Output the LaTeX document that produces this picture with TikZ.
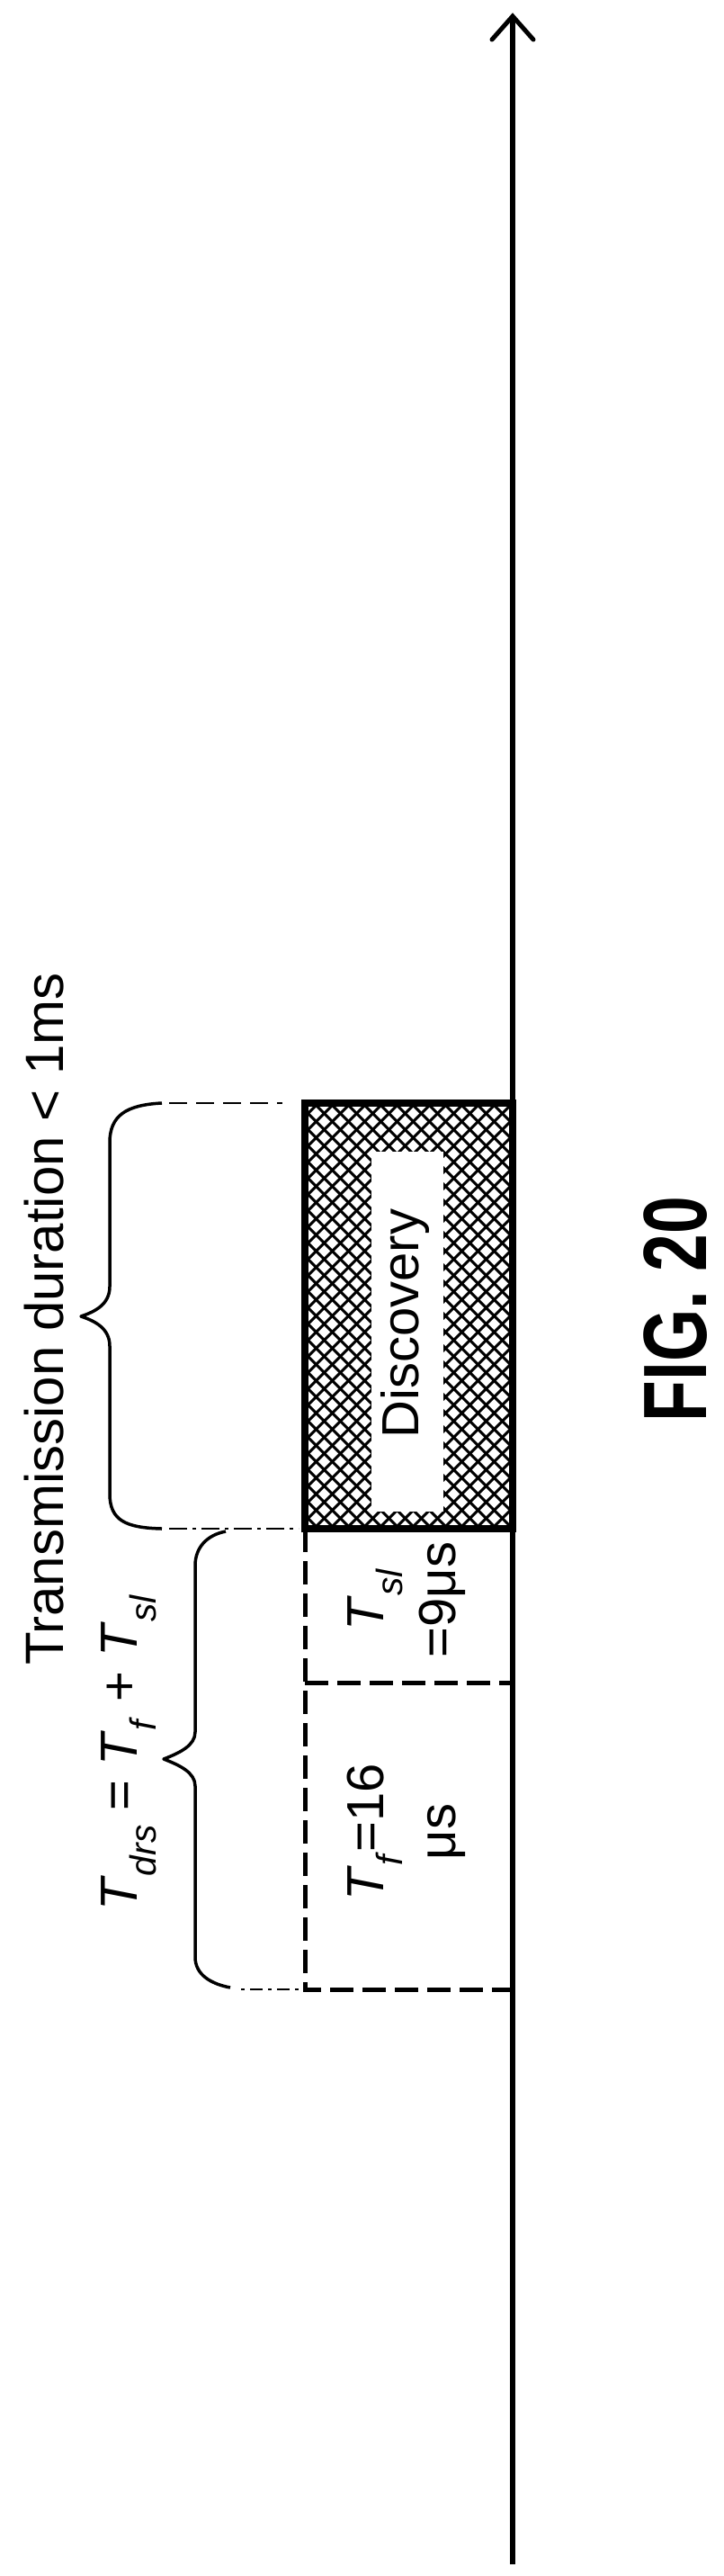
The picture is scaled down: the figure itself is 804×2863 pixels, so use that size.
\documentclass[tikz,border=0pt]{standalone}
\usepackage{fontspec}
\setmainfont{Liberation Sans}
\begin{document}
\begin{tikzpicture}[x=1pt,y=-1pt,
  lbl/.style={rotate=90,inner sep=0pt,font=\fontsize{58}{80}\selectfont,align=center},
  dsh/.style={line width=5pt,dash pattern=on 26pt off 10pt},
  thin dsh/.style={line width=2.5pt,dash pattern=on 20pt off 10pt},
  brc/.style={line width=3.5pt,line join=round}]
\useasboundingbox (0,0) rectangle (804,2863);
% discovery box
\coordinate (dtl) at (339,1226);
\coordinate (dbr) at (570,1699);
\begin{scope}
\clip (dtl) rectangle (dbr);
\foreach \i in {0,...,40}{
  \draw[line width=3pt] (339+18*\i-480,1226-4) -- ++(720,720);
  \draw[line width=3pt] (339+18*\i-480,1699+4) -- ++(720,-720);
}
\end{scope}
\fill[white] (413,1280) rectangle (493,1680);
\draw[line width=8pt] (dtl) rectangle (dbr);
\node[lbl] (disc) at (450,1471) {Discovery};
% dashed boxes
\draw[dsh] (339,1699) -- (339,2211) -- (570,2211);
\draw[dsh] (339,1870) -- (570,1870);
\node[lbl] (tsl) at (452,1778) {\textit{T}\textsubscript{\textit{sl}}\\=9μs};
\node[lbl] (tf) at (452,2036) {\textit{T}\textsubscript{\textit{f}}=16\\μs};
% axis
\coordinate (ab) at (570,2850);
\coordinate (at) at (570,18);
\draw[line width=5.5pt] (ab) -- (at);
\draw[line width=5pt,line cap=round,line join=miter] (547,44) -- (at) -- (593,44);
% braces
\draw[brc] (180,1226) .. controls (140,1228) and (122,1240) .. (122,1270) -- (122,1430)
  .. controls (122,1450) and (105,1458) .. (90,1463)
  .. controls (105,1468) and (122,1476) .. (122,1496) -- (122,1660)
  .. controls (122,1690) and (140,1698) .. (180,1699);
\draw[brc] (251,1702) .. controls (230,1706) and (217,1720) .. (217,1740) -- (217,1925)
  .. controls (217,1940) and (200,1948) .. (182,1955)
  .. controls (200,1962) and (217,1970) .. (217,1985) -- (217,2175)
  .. controls (217,2195) and (235,2205) .. (256,2209);
\draw[thin dsh] (188,1226) -- (314,1226);
\draw[thin dsh,dash pattern=on 20pt off 6pt on 4pt off 6pt] (188,1699) -- (332,1699);
\draw[thin dsh,dash pattern=on 4pt off 6pt on 14pt off 6pt] (268,2211) -- (334,2211);
% labels
\node[lbl,font=\fontsize{60}{72}\selectfont] (trans) at (49,1466) {Transmission duration < 1ms};
\node[lbl] (tdrs) at (143,1948) {\textit{T}\textsubscript{\textit{drs}} = \textit{T}\textsubscript{\textit{f}} + \textit{T}\textsubscript{\textit{sl}}};
\node[lbl,font=\fontsize{100}{110}\bfseries] (fig) at (751,1455) {\scalebox{0.75}[1]{FIG. 20}};
\end{tikzpicture}
\end{document}
